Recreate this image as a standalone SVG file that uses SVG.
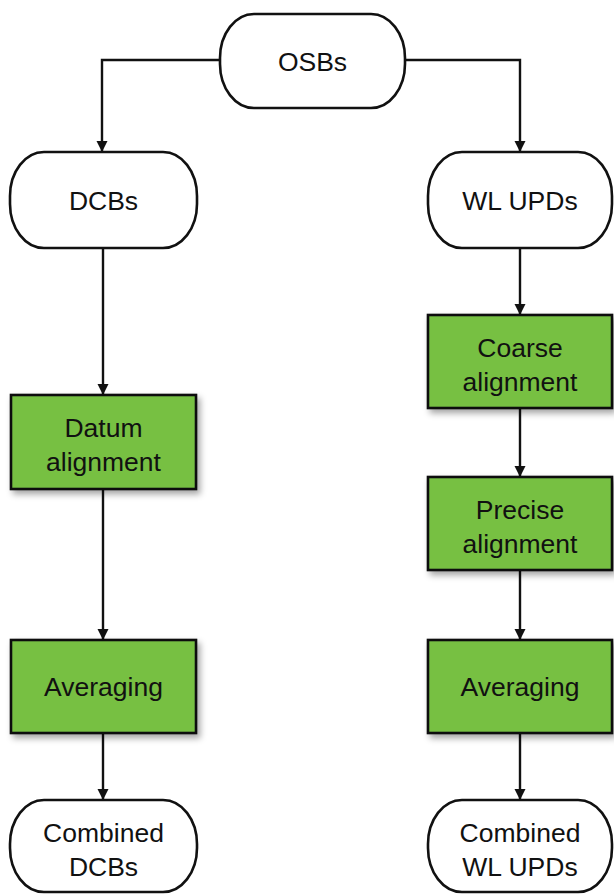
<svg xmlns="http://www.w3.org/2000/svg" width="614" height="894" viewBox="0 0 614 894">
<defs>
<style>
.term{fill:#fff;stroke:#111;stroke-width:2.6}
.proc{fill:#77c043;stroke:#111;stroke-width:2.6;filter:url(#sh)}
.lbl{font-family:"Liberation Sans",Arial,sans-serif;font-size:26.5px;fill:#111;text-anchor:middle}
.conn{fill:none;stroke:#111;stroke-width:2.4;marker-end:url(#ah)}
</style>
<marker id="ah" viewBox="0 0 10 10" refX="10" refY="5" markerWidth="4.6" markerHeight="4.6" markerUnits="strokeWidth" orient="auto">
<path d="M0,0 L10,5 L0,10 Z" fill="#111"/>
</marker>
<filter id="sh" x="-10%" y="-10%" width="130%" height="130%">
<feDropShadow dx="3" dy="4" stdDeviation="3" flood-color="#000" flood-opacity="0.35"/>
</filter>
</defs>
<g id="connectors">
<path class="conn" d="M220,60 H102 V152"/>
<path class="conn" d="M405,60 H520 V152"/>
<path class="conn" d="M103,248 V395"/>
<path class="conn" d="M103,489 V640"/>
<path class="conn" d="M103,733 V800"/>
<path class="conn" d="M520,248 V315"/>
<path class="conn" d="M520,408 V477"/>
<path class="conn" d="M520,570 V640"/>
<path class="conn" d="M520,733 V800"/>
</g>
<g id="osbs">
<rect class="term" x="220" y="14" width="185" height="94" rx="34" ry="44"/>
<text class="lbl" x="312.5" y="71">OSBs</text>
</g>
<g id="dcbs">
<rect class="term" x="10" y="152" width="187" height="96" rx="34" ry="44"/>
<text class="lbl" x="103.5" y="210">DCBs</text>
</g>
<g id="wlupds">
<rect class="term" x="428" y="152" width="184" height="96" rx="34" ry="44"/>
<text class="lbl" x="520" y="210">WL UPDs</text>
</g>
<g id="datum">
<rect class="proc" x="11" y="395" width="185" height="94"/>
<text class="lbl" x="103.5" y="437">Datum</text>
<text class="lbl" x="103.5" y="471">alignment</text>
</g>
<g id="avg-left">
<rect class="proc" x="11" y="640" width="185" height="93"/>
<text class="lbl" x="103.5" y="696">Averaging</text>
</g>
<g id="combined-dcbs">
<rect class="term" x="10" y="800" width="187" height="92" rx="34" ry="44"/>
<text class="lbl" x="103.5" y="842">Combined</text>
<text class="lbl" x="103.5" y="876">DCBs</text>
</g>
<g id="coarse">
<rect class="proc" x="428" y="315" width="184" height="93"/>
<text class="lbl" x="520" y="357">Coarse</text>
<text class="lbl" x="520" y="391">alignment</text>
</g>
<g id="precise">
<rect class="proc" x="428" y="477" width="184" height="93"/>
<text class="lbl" x="520" y="519">Precise</text>
<text class="lbl" x="520" y="553">alignment</text>
</g>
<g id="avg-right">
<rect class="proc" x="428" y="640" width="184" height="93"/>
<text class="lbl" x="520" y="696">Averaging</text>
</g>
<g id="combined-wlupds">
<rect class="term" x="428" y="800" width="184" height="92" rx="34" ry="44"/>
<text class="lbl" x="520" y="842">Combined</text>
<text class="lbl" x="520" y="876">WL UPDs</text>
</g>
</svg>
